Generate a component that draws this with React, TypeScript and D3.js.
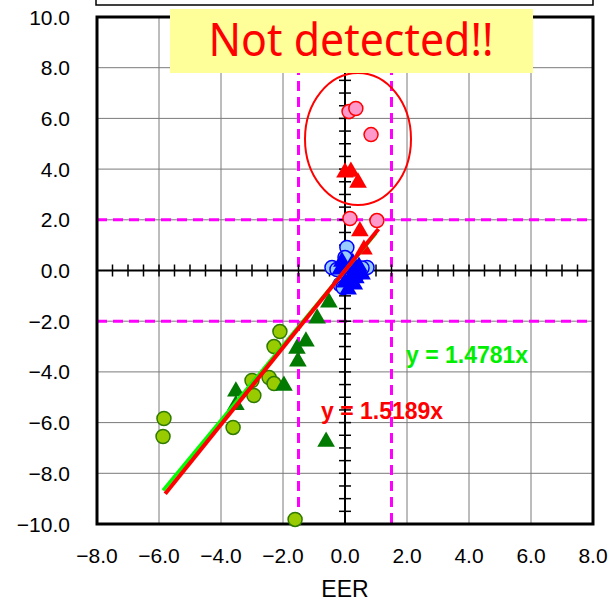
import React, { useEffect, useRef } from 'react';
import * as d3 from 'd3';

type P = [number, number];

// points
const pinkCircles: P[] = [[0.13, 6.27], [0.35, 6.39], [0.84, 5.36], [0.16, 2.05], [1.03, 1.97]];
const redTriangles: P[] = [[0.0, 3.87], [0.19, 3.9], [0.42, 3.47], [0.48, 1.55], [0.61, 0.83]];
const blueCircles: P[] = [[0.06, 0.91], [0.0, 0.51], [-0.42, 0.12], [-0.26, 0.04], [0.71, 0.12], [-0.16, -0.55], [-0.06, -0.67], [0.45, -0.1], [0.55, 0.1]];
const blueTriangles: P[] = [[-0.15, 0.04], [0.2, 0.12], [0.4, -0.04], [0.15, -0.35], [0.0, -0.47], [0.3, -0.55], [0.55, -0.15], [0.1, -0.75], [-0.1, 0.35], [0.25, 0.3], [0.45, 0.15], [0.35, -0.3]];
const greenCircles: P[] = [[-2.1, -2.41], [-2.29, -3.0], [-3.0, -4.34], [-2.94, -4.93], [-2.45, -4.22], [-2.29, -4.46], [-3.61, -6.19], [-5.84, -5.84], [-5.87, -6.55], [-1.61, -9.82]];
const greenTriangles: P[] = [[-0.52, -1.26], [-0.9, -1.89], [-1.26, -2.8], [-1.55, -3.08], [-1.52, -3.59], [-1.97, -4.54], [-3.52, -4.77], [-3.52, -5.3], [-0.61, -6.75]];

const xTicks = [-8, -6, -4, -2, 0, 2, 4, 6, 8];
const yTicks = [-10, -8, -6, -4, -2, 0, 2, 4, 6, 8, 10];
const limitX = [-1.5, 1.5];
const limitY = [-2, 2];
const greenSlope = 1.4781;
const redSlope = 1.5189;
const greenRange = [-5.87, 1.0];
const redRange = [-5.8, 1.08];

export default function App() {
  const ref = useRef<SVGSVGElement>(null);

  useEffect(() => {
    const svg = d3.select(ref.current);
    svg.selectAll('*').remove();

    const x = d3.scaleLinear().domain([-8, 8]).range([97, 593]);
    const y = d3.scaleLinear().domain([-10, 10]).range([524, 17]);
    const font = 'Liberation Sans, Arial, sans-serif';

    svg.append('rect').attr('width', 612).attr('height', 602).attr('fill', 'white');

    // legend box cut off at the top
    svg.append('rect').attr('x', 96).attr('y', -20).attr('width', 497).attr('height', 25)
      .attr('fill', 'white').attr('stroke', 'black').attr('stroke-width', 1.5);

    // grid
    const g = svg.append('g');
    g.selectAll('.gx').data(xTicks).join('line')
      .attr('x1', d => x(d)).attr('x2', d => x(d)).attr('y1', y(10)).attr('y2', y(-10))
      .attr('stroke', '#7a7a7a').attr('stroke-width', 1);
    g.selectAll('.gy').data(yTicks).join('line')
      .attr('y1', d => y(d)).attr('y2', d => y(d)).attr('x1', x(-8)).attr('x2', x(8))
      .attr('stroke', '#7a7a7a').attr('stroke-width', 1);

    // magenta limits
    svg.append('g').selectAll('line').data(limitX).join('line')
      .attr('x1', d => x(d)).attr('x2', d => x(d)).attr('y1', y(10)).attr('y2', y(-10))
      .attr('stroke', '#ff00ff').attr('stroke-width', 3).attr('stroke-dasharray', '10,6');
    svg.append('g').selectAll('line').data(limitY).join('line')
      .attr('y1', d => y(d)).attr('y2', d => y(d)).attr('x1', x(-8)).attr('x2', x(8))
      .attr('stroke', '#ff00ff').attr('stroke-width', 3).attr('stroke-dasharray', '10,6');

    // axes through origin with crossing ticks
    const ax = svg.append('g');
    ax.append('line').attr('x1', x(-8)).attr('x2', x(8)).attr('y1', y(0)).attr('y2', y(0))
      .attr('stroke', 'black').attr('stroke-width', 2);
    ax.append('line').attr('x1', x(0)).attr('x2', x(0)).attr('y1', y(10)).attr('y2', y(-10))
      .attr('stroke', 'black').attr('stroke-width', 2);
    ax.selectAll('.tx').data(d3.range(-8, 8.01, 0.5)).join('line')
      .attr('x1', d => x(d)).attr('x2', d => x(d)).attr('y1', y(0) - 6).attr('y2', y(0) + 6)
      .attr('stroke', 'black').attr('stroke-width', 1.5);
    ax.selectAll('.ty').data(d3.range(-10, 10.01, 0.5)).join('line')
      .attr('y1', d => y(d)).attr('y2', d => y(d)).attr('x1', x(0) - 6).attr('x2', x(0) + 6)
      .attr('stroke', 'black').attr('stroke-width', 1.5);

    // frame
    svg.append('rect').attr('x', x(-8)).attr('y', y(10)).attr('width', x(8) - x(-8)).attr('height', y(-10) - y(10))
      .attr('fill', 'none').attr('stroke', 'black').attr('stroke-width', 3);

    // tick labels
    svg.append('g').selectAll('text').data(xTicks).join('text')
      .attr('x', d => x(d)).attr('y', 563).attr('text-anchor', 'middle')
      .attr('font-family', font).attr('font-size', 21).text(d => d3.format('.1f')(d));
    svg.append('g').selectAll('text').data(yTicks).join('text')
      .attr('x', 70).attr('y', d => y(d) + 7.5).attr('text-anchor', 'end')
      .attr('font-family', font).attr('font-size', 21).text(d => d3.format('.1f')(d));
    svg.append('text').attr('x', x(0)).attr('y', 597).attr('text-anchor', 'middle')
      .attr('font-family', font).attr('font-size', 23).text('EER');

    // markers
    const tri = d3.symbol().type(d3.symbolTriangle).size(135);
    const circles = (data: P[], fill: string, stroke: string) =>
      svg.append('g').selectAll('circle').data(data).join('circle')
        .attr('cx', d => x(d[0])).attr('cy', d => y(d[1])).attr('r', 7)
        .attr('fill', fill).attr('stroke', stroke).attr('stroke-width', 1.5);
    const triangles = (data: P[], fill: string) =>
      svg.append('g').selectAll('path').data(data).join('path')
        .attr('d', tri).attr('transform', d => `translate(${x(d[0])},${y(d[1])})`)
        .attr('fill', fill);

    circles(greenCircles, '#99cc00', '#2f7a00');
    triangles(greenTriangles, '#007a00');
    circles(blueCircles, '#99ccff', '#0000ff');
    triangles(blueTriangles, '#0000ff');
    circles(pinkCircles, '#ff99cc', '#ff0000');
    triangles(redTriangles, '#ff0000');

    // regression lines
    svg.append('line').attr('x1', x(greenRange[0])).attr('y1', y(greenSlope * greenRange[0]))
      .attr('x2', x(greenRange[1])).attr('y2', y(greenSlope * greenRange[1]))
      .attr('stroke', '#00ff00').attr('stroke-width', 3.5);
    svg.append('line').attr('x1', x(redRange[0])).attr('y1', y(redSlope * redRange[0]))
      .attr('x2', x(redRange[1])).attr('y2', y(redSlope * redRange[1]))
      .attr('stroke', '#ff0000').attr('stroke-width', 4);

    svg.append('text').attr('x', 406).attr('y', 363).attr('font-family', font).attr('font-weight', 'bold')
      .attr('font-size', 23).attr('fill', '#00ee00').text(`y = ${greenSlope}x`);
    svg.append('text').attr('x', 321).attr('y', 419).attr('font-family', font).attr('font-weight', 'bold')
      .attr('font-size', 23).attr('fill', '#ff0000').text(`y = ${redSlope}x`);

    // ellipse around outliers
    svg.append('ellipse').attr('cx', 358).attr('cy', 139).attr('rx', 53).attr('ry', 66)
      .attr('fill', 'none').attr('stroke', '#ff0000').attr('stroke-width', 2);

    // callout
    svg.append('rect').attr('x', 170).attr('y', 9).attr('width', 363).attr('height', 64).attr('fill', '#ffff99');
    svg.append('text').attr('x', 351).attr('y', 56).attr('text-anchor', 'middle')
      .attr('font-family', 'Noto Sans, sans-serif').attr('font-size', 46).attr('fill', '#ff0000')
      .attr('textLength', 285).attr('lengthAdjust', 'spacingAndGlyphs').text('Not detected!!');
  }, []);

  return <svg ref={ref} width={612} height={602} style={{ position: 'absolute', left: 0, top: 0 }} />;
}
